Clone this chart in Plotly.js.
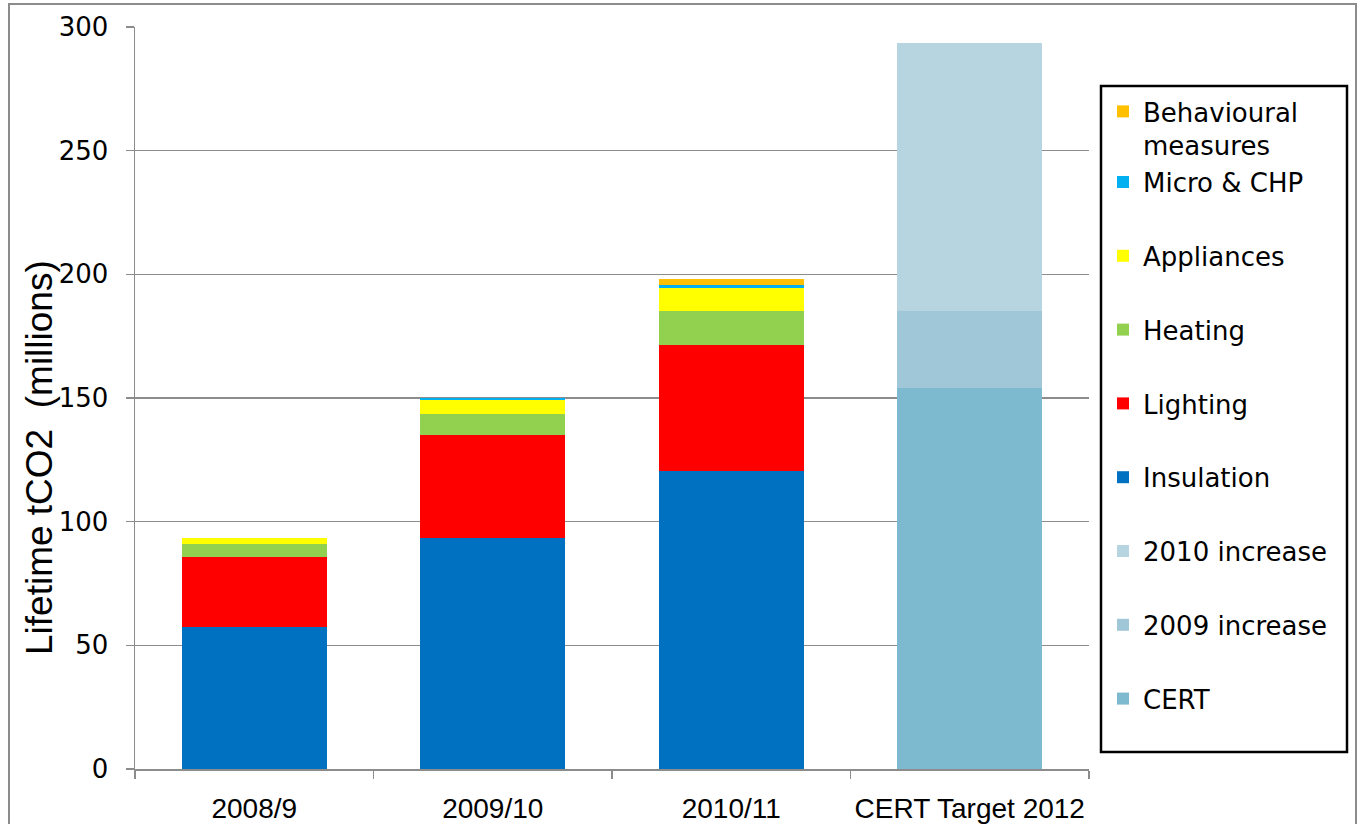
<!DOCTYPE html>
<html>
<head>
<meta charset="utf-8">
<script src="https://cdn.plot.ly/plotly-3.0.1.min.js"></script>
<style>
  html, body { margin: 0; padding: 0; background: #ffffff; }
  #chart { width: 1360px; height: 824px; }
</style>
</head>
<body>
<div id="chart"></div>
<script>
// ---- data ----
const categories = ['2008/9', '2009/10', '2010/11', 'CERT Target 2012'];
const insulation  = [57.4, 93.5, 120.4, null];
const lighting    = [28.3, 41.6, 51.0, null];
const heating     = [5.3, 8.4, 13.8, null];
const appliances  = [2.4, 5.7, 9.3, null];
const micro       = [0, 0.6, 1.2, null];
const behavioural = [0, 0.2, 2.4, null];
const cert        = [null, null, null, 154.1];
const inc2009     = [null, null, null, 31.1];
const inc2010     = [null, null, null, 108.4];
const yTicks      = [0, 50, 100, 150, 200, 250, 300];
const yTitle      = 'Lifetime tCO2&nbsp;&nbsp;(millions)';

// ---- series, bottom of stack first ----
// group: legend grouping so that the two-line entry keeps Excel-like even spacing
const series = [
  {name: 'CERT',          y: cert,        color: '#7db9cf', group: 'g0'},
  {name: '2009 increase', y: inc2009,     color: '#9fc7d7', group: 'g1'},
  {name: '2010 increase', y: inc2010,     color: '#b7d5e0', group: 'g2'},
  {name: 'Insulation',    y: insulation,  color: '#0070c0', group: 'g3'},
  {name: 'Lighting',      y: lighting,    color: '#ff0000', group: 'g4'},
  {name: 'Heating',       y: heating,     color: '#92d050', group: 'g5'},
  {name: 'Appliances',    y: appliances,  color: '#ffff00', group: 'g6'},
  {name: 'Micro &amp; CHP', y: micro,     color: '#00b0f0', group: 'g7'},
  {name: 'Behavioural<br>measures', y: behavioural, color: '#ffc000', group: 'g7'}
];

const traces = series.map((s, i) => ({
  type: 'bar',
  x: categories,
  y: s.y,
  name: s.name,
  legendgroup: s.group,
  legendrank: 1000 - i,
  marker: {color: s.color, line: {width: 0}},
  hoverinfo: 'name+y'
}));

const L = 135, R = 1089, T = 27, B = 769;
const W = 1360, H = 824;
const pw = R - L, ph = B - T;
const px = v => (v - L) / pw;      // page x -> paper x
const py = v => (B - v) / ph;      // page y -> paper y

const layout = {
  width: W, height: H,
  margin: {l: L, r: W - R, t: T, b: H - B, pad: 0},
  paper_bgcolor: '#ffffff',
  plot_bgcolor: '#ffffff',
  barmode: 'stack',
  bargap: 0.392,
  showlegend: true,
  font: {family: 'DejaVu Sans, Verdana, sans-serif', color: '#000000'},
  xaxis: {
    type: 'category',
    showline: true, linecolor: '#8c8c8c', linewidth: 1.5,
    ticks: 'outside', tickson: 'boundaries', ticklen: 8, tickcolor: '#8c8c8c', tickwidth: 1.5,
    tickangle: 0,
    ticklabelstandoff: 14,
    tickfont: {family: 'Liberation Sans, Arial, sans-serif', size: 28, color: '#000000'},
    showgrid: false, zeroline: false, fixedrange: true
  },
  yaxis: {
    range: [0, 300],
    tickmode: 'array', tickvals: yTicks, ticktext: yTicks.map(String),
    showline: true, linecolor: '#8c8c8c', linewidth: 1.5,
    ticks: 'outside', ticklen: 8, tickcolor: '#8c8c8c', tickwidth: 1.5,
    ticklabelstandoff: 12,
    tickfont: {family: 'DejaVu Sans, Verdana, sans-serif', size: 26, color: '#000000'},
    showgrid: true, gridcolor: '#8c8c8c', gridwidth: 1.5,
    zeroline: false, fixedrange: true
  },
  annotations: [{
    xref: 'paper', yref: 'paper',
    x: px(39), y: py(458),
    xanchor: 'center', yanchor: 'middle',
    textangle: -90, showarrow: false,
    text: yTitle,
    font: {family: 'Liberation Sans, Arial, sans-serif', size: 37, color: '#000000'}
  }],
  legend: {
    x: px(1103), y: py(88),
    xanchor: 'left', yanchor: 'top',
    traceorder: 'grouped',
    tracegroupgap: 37,
    valign: 'top',
    borderwidth: 0,
    bgcolor: 'rgba(0,0,0,0)',
    font: {family: 'DejaVu Sans, Verdana, sans-serif', size: 26, color: '#000000'}
  },
  shapes: [
    { // outer chart border
      type: 'rect', xref: 'paper', yref: 'paper',
      x0: px(9), x1: px(1356), y0: py(840), y1: py(4),
      line: {color: '#8c8c8c', width: 2}, fillcolor: 'rgba(0,0,0,0)', layer: 'below'
    },
    { // legend frame
      type: 'rect', xref: 'paper', yref: 'paper',
      x0: px(1101), x1: px(1347), y0: py(752), y1: py(86),
      line: {color: '#000000', width: 2.5}, fillcolor: 'rgba(0,0,0,0)', layer: 'above'
    }
  ]
};

Plotly.newPlot('chart', traces, layout, {displayModeBar: false, staticPlot: true});
</script>
</body>
</html>
